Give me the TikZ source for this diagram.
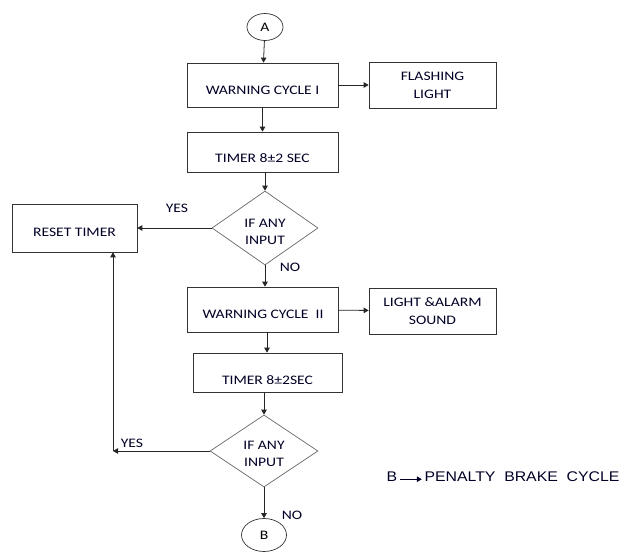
\documentclass[tikz,border=0pt]{standalone}
\usepackage{fontspec}
\setmainfont{Carlito}[FakeStretch=1.2]
\newfontfamily\arialf{Liberation Sans}[FakeStretch=1.13]
\usetikzlibrary{shapes.geometric,arrows.meta}
\begin{document}
\begin{tikzpicture}[x=1pt,y=-1pt,
  box/.style={draw=black!80,line width=0.7pt,minimum width=151pt,minimum height=44pt,inner sep=0pt,font=\fontsize{13}{18}\selectfont,align=center,text=black!85!blue},
  low/.style={text height=#1,text depth=0pt},
  dia/.style={draw=black!60,line width=0.7pt,diamond,minimum width=106pt,minimum height=74pt,inner sep=0pt},
  dtext/.style={font=\fontsize{13}{17}\selectfont,align=center,text=black!85!blue,inner sep=0pt},
  term/.style={draw=black!80,line width=0.7pt,ellipse,inner sep=0pt,font=\fontsize{13}{15}\selectfont},
  lab/.style={font=\fontsize{13}{15}\selectfont,text=black!85!blue},
  arr/.style={-{Triangle[length=5pt,width=5.5pt]},line width=0.8pt,draw=black!85}]
\useasboundingbox (0,0) rectangle (630,553);
\node[term,minimum width=36pt,minimum height=27pt] (A) at (265,27) {A};
\node[box,low=19.4pt] (w1) at (262.5,85) {WARNING CYCLE I};
\node[box,minimum width=127pt,minimum height=46pt] (fl) at (432.5,85) {FLASHING\\LIGHT};
\node[box,low=20.4pt,minimum height=40pt] (t1) at (262.5,152) {TIMER 8±2 SEC};
\node[dia,label={[dtext,yshift=-3.5pt]center:IF ANY\\INPUT}] (d1) at (265,228) {};
\node[box,low=17.4pt,minimum width=125pt,minimum height=48pt] (rt) at (74.5,228) {RESET TIMER};
\node[box,low=17.4pt,minimum height=45pt] (w2) at (263,309.5) {WARNING CYCLE\ \ II};
\node[box,minimum width=127pt,minimum height=46pt] (la) at (432.5,311) {LIGHT \&ALARM\\SOUND};
\node[box,low=23.4pt,minimum width=149pt,minimum height=39pt] (t2) at (267.5,372.5) {TIMER 8±2SEC};
\node[dia,minimum height=72pt,minimum width=108pt,label={[dtext,yshift=-2.5pt]center:IF ANY\\INPUT}] (d2) at (264,451) {};
\node[term,minimum width=45pt,minimum height=33pt] (B) at (264,535) {B};
\coordinate (c) at (113,451);
\node[lab] (yes1) at (177,208) {YES};
\node[lab] (no1) at (290,267) {NO};
\node[lab] (yes2) at (132,443) {YES};
\node[lab] (no2) at (292,515) {NO};
\node[anchor=west,font=\arialf\fontsize{14}{16}\selectfont,text=black!85!blue] (leg) at (383,477) {B\,\raisebox{0.35ex}{\tikz[baseline]\draw[-{Triangle[length=5pt,width=5.5pt]},line width=0.8pt](0,0)--(22pt,0);}\,PENALTY\ \ BRAKE\ \ CYCLE};
\draw[arr] (A) -- (w1);
\draw[arr] (w1) -- (fl);
\draw[arr] (w1) -- (t1);
\draw[arr] (t1.south -| d1.north) -- (d1.north);
\draw[arr] (d1) -- (rt);
\draw[arr] (d1.south) -- (d1.south |- w2.north);
\draw[arr] (w2) -- (la);
\draw[arr] (w2.south -| 267,0) -- (t2.north -| 267,0);
\draw[arr] (t2.south -| d2.north) -- (d2.north);
\draw[arr] (d2.west) -- (c);
\draw[arr] (c) -- (c |- rt.south);
\draw[arr] (d2.south) -- (B);
\end{tikzpicture}
\end{document}
